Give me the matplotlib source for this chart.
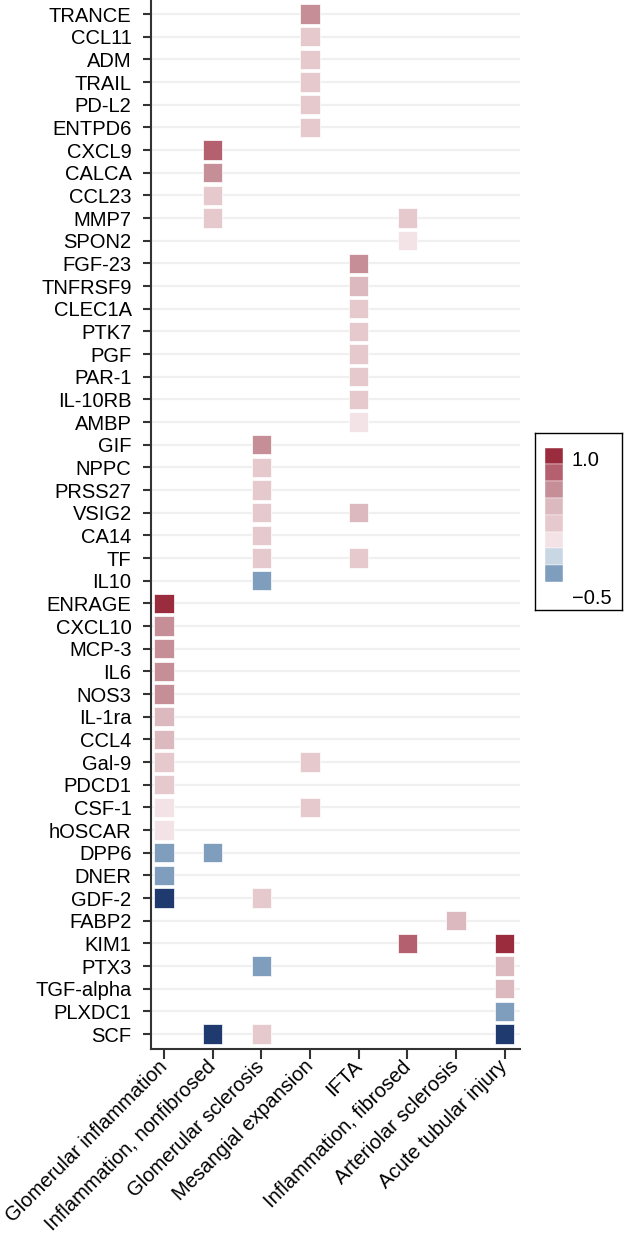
import numpy as np
import matplotlib
matplotlib.use("Agg")
import matplotlib.pyplot as plt
from matplotlib.colors import ListedColormap, BoundaryNorm

plt.rcParams['font.family'] = ['Liberation Sans', 'DejaVu Sans']

proteins = ["TRANCE", "CCL11", "ADM", "TRAIL", "PD-L2", "ENTPD6", "CXCL9", "CALCA",
            "CCL23", "MMP7", "SPON2", "FGF-23", "TNFRSF9", "CLEC1A", "PTK7", "PGF",
            "PAR-1", "IL-10RB", "AMBP", "GIF", "NPPC", "PRSS27", "VSIG2", "CA14", "TF",
            "IL10", "ENRAGE", "CXCL10", "MCP-3", "IL6", "NOS3", "IL-1ra", "CCL4", "Gal-9",
            "PDCD1", "CSF-1", "hOSCAR", "DPP6", "DNER", "GDF-2", "FABP2", "KIM1", "PTX3",
            "TGF-alpha", "PLXDC1", "SCF"]
lesions = ["Glomerular inflammation", "Inflammation, nonfibrosed", "Glomerular sclerosis",
           "Mesangial expansion", "IFTA", "Inflammation, fibrosed", "Arteriolar sclerosis",
           "Acute tubular injury"]

# (protein, lesion, correlation)
cell_protein = ["TRANCE", "CCL11", "ADM", "TRAIL", "PD-L2", "ENTPD6",
                "CXCL9", "CALCA", "CCL23", "MMP7", "MMP7", "SPON2",
                "FGF-23", "TNFRSF9", "CLEC1A", "PTK7", "PGF", "PAR-1", "IL-10RB", "AMBP",
                "GIF", "NPPC", "PRSS27", "VSIG2", "VSIG2", "CA14", "TF", "TF", "IL10",
                "ENRAGE", "CXCL10", "MCP-3", "IL6", "NOS3", "IL-1ra", "CCL4", "Gal-9", "Gal-9",
                "PDCD1", "CSF-1", "CSF-1", "hOSCAR", "DPP6", "DPP6", "DNER", "GDF-2", "GDF-2",
                "FABP2", "KIM1", "KIM1", "PTX3", "PTX3", "TGF-alpha", "PLXDC1",
                "SCF", "SCF", "SCF"]
cell_lesion = [3, 3, 3, 3, 3, 3,
               1, 1, 1, 1, 5, 5,
               4, 4, 4, 4, 4, 4, 4, 4,
               2, 2, 2, 2, 4, 2, 2, 4, 2,
               0, 0, 0, 0, 0, 0, 0, 0, 3,
               0, 0, 3, 0, 0, 1, 0, 0, 2,
               6, 5, 7, 2, 7, 7, 7,
               1, 2, 7]
cell_value = [0.6, 0.3, 0.3, 0.3, 0.3, 0.3,
              0.8, 0.6, 0.3, 0.3, 0.3, 0.1,
              0.6, 0.4, 0.3, 0.3, 0.3, 0.3, 0.3, 0.1,
              0.6, 0.3, 0.3, 0.3, 0.4, 0.3, 0.3, 0.3, -0.3,
              1.0, 0.6, 0.6, 0.6, 0.6, 0.4, 0.4, 0.3, 0.3,
              0.3, 0.1, 0.3, 0.1, -0.3, -0.3, -0.3, -0.5, 0.3,
              0.4, 0.8, 1.0, -0.3, 0.4, 0.4, -0.3,
              -0.5, 0.3, -0.5]

colors = ["#1f3a6e", "#7f9dbd", "#c9d6e3", "#f3e3e6", "#e5c9cd",
          "#dcb9be", "#c68e96", "#b5606e", "#9a2c3d"]
bounds = [-0.6, -0.4, -0.2, 0.0, 0.2, 0.35, 0.5, 0.7, 0.9, 1.1]
cmap = ListedColormap(colors)
norm = BoundaryNorm(bounds, cmap.N)

fig = plt.figure(figsize=(6.24, 12.47), dpi=100)
ax = fig.add_axes([0.242, 0.1588, 0.591, 0.8412])

ypos = [proteins.index(p) for p in cell_protein]
ax.scatter(cell_lesion, ypos, c=cell_value, cmap=cmap, norm=norm, marker='s',
           s=195, edgecolors='white', linewidths=0.5, zorder=3)

ax.set_yticks(range(len(proteins)))
ax.set_yticklabels(proteins, fontsize=14.5)
ax.set_xticks(range(len(lesions)))
ax.set_xticklabels(lesions, fontsize=14.5, rotation=45, ha='right', va='center',
                   rotation_mode='anchor')
ax.set_xlim(-0.27, 7.31)
ax.set_ylim(len(proteins) - 1 + 0.66, -0.62)
ax.grid(axis='y', color='#f0f0f0', linewidth=1.6, zorder=0)
ax.set_axisbelow(True)
for s in ['top', 'right']:
    ax.spines[s].set_visible(False)
for s in ['left', 'bottom']:
    ax.spines[s].set_color('#333333')
    ax.spines[s].set_linewidth(1.5)
ax.tick_params(axis='y', length=6, width=1.5, color='#333333', pad=8)
ax.tick_params(axis='x', length=7, width=1.5, color='#333333', pad=3.5)

# legend box
lax = fig.add_axes([0.857, 0.511, 0.14, 0.142])
lax.set_xlim(0, 87)
lax.set_ylim(177, 0)
lax.set_xticks([])
lax.set_yticks([])
for s in lax.spines.values():
    s.set_linewidth(1.0)
    s.set_color('black')
legend_colors = colors[1:][::-1]
lax.bar([19] * len(legend_colors), [16.75] * len(legend_colors), width=18,
        bottom=[15 + 16.75 * i for i in range(len(legend_colors))],
        color=legend_colors, edgecolor='white', linewidth=0.3)
lax.text(37, 28, "1.0", fontsize=14.5, va='center', ha='left')
lax.text(37, 166, "\u22120.5", fontsize=14.5, va='center', ha='left')

fig.savefig("out.png", dpi=100)
